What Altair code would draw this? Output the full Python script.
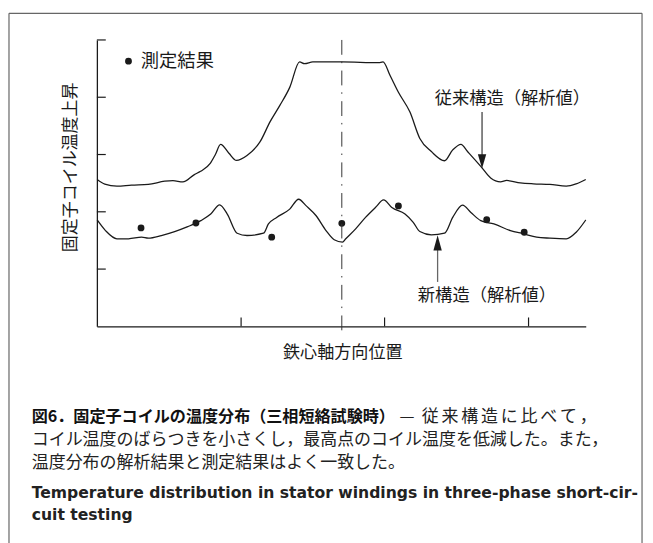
import altair as alt
import pandas as pd

# ---- data (x: 0-100 along core axis, y: relative temperature rise, 0-5) ----
conv_x = [0.06, 1.62, 4.10, 7.07, 10.51, 13.88, 15.56, 17.58, 19.94, 21.21, 23.23, 24.24,
          25.31, 27.01, 28.55, 30.71, 33.39, 35.41, 37.43, 39.45, 41.47, 42.48, 44.18, 50.1,
          57.64, 58.53, 60.0, 61.68, 64.04, 66.06, 68.42, 71.11, 72.79, 74.48, 75.82, 78.53,
          80.55, 82.57, 83.84, 86.61, 89.29, 92.67, 96.02, 98.04, 100.0]
conv_y = [2.564, 2.483, 2.448, 2.466, 2.478, 2.534, 2.543, 2.522, 2.650, 2.707, 2.850, 3.0,
          3.178, 3.022, 2.897, 2.983, 3.224, 3.569, 3.857, 4.172, 4.616, 4.586, 4.616, 4.616,
          4.603, 4.616, 4.374, 4.086, 3.741, 3.281, 3.052, 2.891, 3.081, 3.178, 3.052, 2.793,
          2.591, 2.522, 2.547, 2.505, 2.488, 2.478, 2.448, 2.488, 2.564]

new_x = [0.06, 1.76, 4.10, 6.46, 9.15, 10.51, 13.19, 15.90, 18.59, 21.27, 23.29, 25.11,
         26.67, 28.69, 30.71, 34.08, 35.09, 36.77, 39.45, 41.27, 42.83, 44.85, 46.87, 48.55,
         50.24, 50.91, 52.93, 54.95, 56.97, 58.65, 60.34, 63.03, 64.71, 66.06, 68.42, 71.11,
         72.79, 74.81, 76.50, 78.53, 81.21, 84.59, 87.27, 89.96, 92.67, 96.02, 98.04, 100.0]
new_y = [1.857, 1.672, 1.529, 1.529, 1.557, 1.540, 1.586, 1.655, 1.741, 1.845, 1.960, 2.121,
         1.960, 1.626, 1.586, 1.626, 1.788, 1.902, 2.047, 2.219, 2.103, 1.931, 1.672, 1.512,
         1.471, 1.529, 1.702, 1.902, 2.074, 2.207, 2.074, 1.960, 1.816, 1.655, 1.598, 1.626,
         1.902, 2.116, 1.988, 1.845, 1.788, 1.672, 1.616, 1.557, 1.540, 1.529, 1.643, 1.857]

meas_x = [9.03, 20.26, 35.76, 50.10, 61.68, 79.74, 87.41]
meas_y = [1.719, 1.805, 1.557, 1.798, 2.103, 1.862, 1.643]

y_ticks = [1, 2, 3, 4, 5]
x_ticks = [29.5, 58.85, 88.3]
center_x = 50.1

cap1_bold = "図6．固定子コイルの温度分布（三相短絡試験時）"
cap1_dash = "—"
cap1_rest = list("従来構造に比べて，")
cap2_text = "コイル温度のばらつきを小さくし，最高点のコイル温度を低減した。また，"
cap3_text = "温度分布の解析結果と測定結果はよく一致した。"
en1_text = "Temperature distribution in stator windings in three-phase short-cir-"
en2_text = "cuit testing"

FONT_JP = "Noto Sans CJK JP"
FONT_EN = "DejaVu Sans"
INK = "#1a1a1a"

W, H = 495, 290

xs = alt.Scale(domain=[0, 100], nice=False, zero=False)
ys = alt.Scale(domain=[0, 5], nice=False, zero=False)

conv_df = pd.DataFrame({"x": conv_x, "y": conv_y})
new_df = pd.DataFrame({"x": new_x, "y": new_y})
meas_df = pd.DataFrame({"x": meas_x, "y": meas_y})
one = pd.DataFrame({"a": [0]})

axis_x = alt.Axis(values=[0], ticks=False, labels=False, grid=False, title=None,
                  domainColor=INK, domainWidth=1.3)
axis_y = alt.Axis(values=[0], ticks=False, labels=False, grid=False, title=None,
                  domainColor=INK, domainWidth=1.3)

conv = alt.Chart(conv_df).mark_line(color=INK, strokeWidth=1.3, interpolate="monotone").encode(
    x=alt.X("x:Q", scale=xs, axis=axis_x),
    y=alt.Y("y:Q", scale=ys, axis=axis_y),
)
new = alt.Chart(new_df).mark_line(color=INK, strokeWidth=1.3, interpolate="monotone").encode(
    x=alt.X("x:Q", scale=xs), y=alt.Y("y:Q", scale=ys)
)
meas = alt.Chart(meas_df).mark_point(filled=True, color=INK, opacity=1, size=48).encode(
    x=alt.X("x:Q", scale=xs), y=alt.Y("y:Q", scale=ys)
)

ytick = alt.Chart(pd.DataFrame({"v": y_ticks})).mark_rule(color=INK, strokeWidth=1.2).encode(
    y=alt.Y("v:Q", scale=ys), x=alt.value(0), x2=alt.value(9)
)
xtick = alt.Chart(pd.DataFrame({"v": x_ticks})).mark_rule(color=INK, strokeWidth=1.2).encode(
    x=alt.X("v:Q", scale=xs), y=alt.value(H), y2=alt.value(H - 9)
)

center = alt.Chart(pd.DataFrame({"x": [center_x], "y": [5.0], "y2": [-0.09]})).mark_rule(
    color="#333", strokeWidth=1, strokeDash=[15, 7, 1.5, 7.5]
).encode(x=alt.X("x:Q", scale=xs), y=alt.Y("y:Q", scale=ys), y2="y2:Q")

# frame
frame_l = alt.Chart(one).mark_rule(color="#666", strokeWidth=1.2).encode(
    x=alt.value(-89), y=alt.value(-27), y2=alt.value(510))
frame_t = alt.Chart(one).mark_rule(color="#666", strokeWidth=1.2).encode(
    x=alt.value(-89), x2=alt.value(552), y=alt.value(-27))
frame_r = alt.Chart(one).mark_rule(color="#666", strokeWidth=1.2).encode(
    x=alt.value(552), y=alt.value(-27), y2=alt.value(510))

# legend
leg_dot = alt.Chart(one).mark_point(filled=True, color=INK, opacity=1, size=48).encode(
    x=alt.value(32), y=alt.value(21.5))
leg_txt = alt.Chart(one).mark_text(font=FONT_JP, fontSize=18.5, color=INK, align="left",
                                   baseline="middle", text="測定結果").encode(
    x=alt.value(44.5), y=alt.value(21.5))

# annotations
conv_lbl = alt.Chart(one).mark_text(font=FONT_JP, fontSize=17.5, color=INK, align="left",
                                    baseline="middle", text="従来構造（解析値）").encode(
    x=alt.value(342), y=alt.value(59.5))
new_lbl = alt.Chart(one).mark_text(font=FONT_JP, fontSize=17.5, color=INK, align="left",
                                   baseline="middle", text="新構造（解析値）").encode(
    x=alt.value(325), y=alt.value(259))

conv_shaft = alt.Chart(one).mark_rule(color="#444", strokeWidth=1.3).encode(
    x=alt.value(390), y=alt.value(73), y2=alt.value(118))
conv_head = alt.Chart(one).mark_point(filled=True, color=INK, opacity=1, size=72,
                                      shape="M-1,-1.7L1,-1.7L0,1.7Z").encode(
    x=alt.value(390), y=alt.value(123))
new_shaft = alt.Chart(one).mark_rule(color="#666", strokeWidth=1.3).encode(
    x=alt.value(345), y=alt.value(245), y2=alt.value(212))
new_head = alt.Chart(one).mark_point(filled=True, color=INK, opacity=1, size=72,
                                     shape="M0,-1.8L1,1.8L-1,1.8Z").encode(
    x=alt.value(345), y=alt.value(205.5))

ytitle = alt.Chart(one).mark_text(font=FONT_JP, fontSize=17.2, color=INK, align="center",
                                  baseline="middle", angle=270, text="固定子コイル温度上昇").encode(
    x=alt.value(-26), y=alt.value(129))
xtitle = alt.Chart(one).mark_text(font=FONT_JP, fontSize=17.3, color=INK, align="center",
                                  baseline="middle", text="鉄心軸方向位置").encode(
    x=alt.value(249), y=alt.value(317))

# caption
Y1, Y2, Y3, YE1, YE2 = 382, 405, 428, 459, 481
cap1b = alt.Chart(one).mark_text(font=FONT_JP, fontSize=16.3, fontWeight="bold", color="#111",
                                 align="left", baseline="middle", text=cap1_bold).encode(
    x=alt.value(-66), y=alt.value(Y1))
cap1d = alt.Chart(one).mark_text(font=FONT_JP, fontSize=17, color="#222",
                                 align="center", baseline="middle", text=cap1_dash).encode(
    x=alt.value(314), y=alt.value(Y1))
rest_df = pd.DataFrame({"c": cap1_rest, "i": list(range(len(cap1_rest)))})
cap1r = alt.Chart(rest_df).transform_calculate(
    px="329 + datum.i * 20.0"
).mark_text(font=FONT_JP, fontSize=17.2, color="#222", align="left", baseline="middle").encode(
    x=alt.X("px:Q", scale=None), y=alt.value(Y1), text="c:N")
cap2 = alt.Chart(one).mark_text(font=FONT_JP, fontSize=17.2, color="#222",
                                align="left", baseline="middle", text=cap2_text).encode(
    x=alt.value(-66), y=alt.value(Y2))
cap3 = alt.Chart(one).mark_text(font=FONT_JP, fontSize=17.2, color="#222",
                                align="left", baseline="middle", text=cap3_text).encode(
    x=alt.value(-66), y=alt.value(Y3))
en1 = alt.Chart(one).mark_text(font=FONT_EN, fontSize=15.8, fontWeight="bold", color="#222",
                               align="left", baseline="middle", text=en1_text).encode(
    x=alt.value(-66), y=alt.value(YE1))
en2 = alt.Chart(one).mark_text(font=FONT_EN, fontSize=15.8, fontWeight="bold", color="#222",
                               align="left", baseline="middle", text=en2_text).encode(
    x=alt.value(-66), y=alt.value(YE2))

chart = alt.layer(
    conv, new, meas, ytick, xtick, center, frame_l, frame_t, frame_r,
    leg_dot, leg_txt, conv_lbl, new_lbl, conv_shaft, conv_head, new_shaft, new_head,
    ytitle, xtitle, cap1b, cap1d, cap1r, cap2, cap3, en1, en2,
).properties(
    width=W, height=H,
    autosize=alt.AutoSizeParams(type="none"),
    padding={"left": 90, "top": 29, "right": 60, "bottom": 216},
    background="white",
).configure_view(stroke=None)

chart.save("out.html", embed_options={"renderer": "svg", "actions": False})
